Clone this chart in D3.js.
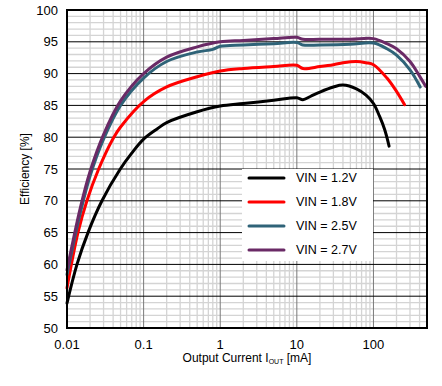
<!DOCTYPE html>
<html>
<head>
<meta charset="utf-8">
<script src="https://cdn.jsdelivr.net/npm/d3@7"></script>
<style>
  body { margin: 0; background: #fff; }
  text { font-family: "Liberation Sans", Arial, sans-serif; fill: #000; }
</style>
</head>
<body>
<div id="chart"></div>
<script>
// tick labels
var xTicks = [0.01, 0.1, 1, 10, 100];
var yTicks = [50, 55, 60, 65, 70, 75, 80, 85, 90, 95, 100];

// series
var seriesNames = ['VIN = 1.2V', 'VIN = 1.8V', 'VIN = 2.5V', 'VIN = 2.7V'];
var seriesColors = ['#000000', '#ff0000', '#2f6378', '#6a2a66'];

// output current [mA] and efficiency [%] per series
var iout12 = [0.01, 0.0135, 0.0188, 0.0286, 0.0496, 0.07, 0.1, 0.15, 0.2, 0.5, 1, 2, 5, 10, 12, 15, 20, 30, 40, 60, 80, 100, 120, 140, 160];
var eff12 = [53.9, 60.0, 65.0, 70.0, 75.0, 77.5, 79.7, 81.3, 82.3, 84.0, 84.9, 85.3, 85.8, 86.2, 85.9, 86.4, 87.1, 87.9, 88.2, 87.6, 86.6, 85.3, 83.3, 81.2, 78.6];

var iout18 = [0.01, 0.0139, 0.0182, 0.0259, 0.04, 0.05, 0.1, 0.2, 0.5, 1, 2, 5, 10, 12, 20, 30, 40, 60, 80, 100, 150, 200, 255];
var eff18 = [56.3, 65.0, 70.0, 75.0, 79.8, 81.6, 85.6, 87.9, 89.5, 90.4, 90.8, 91.1, 91.3, 90.8, 91.1, 91.4, 91.7, 91.9, 91.7, 91.4, 89.3, 87.2, 85.1];

var iout25 = [0.01, 0.015, 0.02, 0.03, 0.05, 0.1, 0.2, 0.5, 0.8, 1, 2, 5, 10, 12, 20, 50, 100, 150, 200, 300, 408];
var eff25 = [58.4, 68.2, 73.9, 79.7, 85.0, 89.3, 91.9, 93.4, 93.8, 94.3, 94.5, 94.7, 94.9, 94.5, 94.5, 94.6, 94.8, 93.9, 92.9, 90.6, 87.9];

var iout27 = [0.01, 0.015, 0.02, 0.03, 0.05, 0.1, 0.2, 0.5, 1, 2, 5, 10, 12, 20, 50, 100, 150, 200, 300, 400, 480];
var eff27 = [59.1, 69.0, 74.6, 80.4, 85.7, 90.0, 92.6, 94.2, 95.0, 95.2, 95.5, 95.7, 95.4, 95.4, 95.4, 95.5, 94.7, 93.9, 91.9, 89.6, 88.0];

var seriesX = [iout12, iout18, iout25, iout27];
var seriesY = [eff12, eff18, eff25, eff27];

var width = 442, height = 386;
var margin = { left: 67, right: 15, top: 10, bottom: 58 };

var svg = d3.select('#chart')
  .append('svg')
  .attr('width', width)
  .attr('height', height);

var x = d3.scaleLog()
  .domain([0.01, 500])
  .range([margin.left, width - margin.right]);

var y = d3.scaleLinear()
  .domain([50, 100])
  .range([height - margin.bottom, margin.top]);

var plot = svg.append('g');

// minor vertical grid
var minorX = [];
for (var d = 0.01; d < 500; d *= 10) {
  for (var k = 2; k <= 9; k++) {
    if (d * k < 500) minorX.push(d * k);
  }
}
plot.selectAll('.vminor')
  .data(minorX)
  .enter().append('line')
  .attr('x1', function (v) { return x(v); })
  .attr('x2', function (v) { return x(v); })
  .attr('y1', y(50))
  .attr('y2', y(100))
  .attr('stroke', '#d4d4d4')
  .attr('stroke-width', 1.3);

// minor horizontal grid
plot.selectAll('.hminor')
  .data(d3.range(51, 100).filter(function (v) { return v % 5 !== 0; }))
  .enter().append('line')
  .attr('x1', x(0.01))
  .attr('x2', x(500))
  .attr('y1', function (v) { return y(v); })
  .attr('y2', function (v) { return y(v); })
  .attr('stroke', '#d4d4d4')
  .attr('stroke-width', 1.3);

// decade lines
plot.selectAll('.vmajor')
  .data(xTicks.slice(1))
  .enter().append('line')
  .attr('x1', function (v) { return x(v); })
  .attr('x2', function (v) { return x(v); })
  .attr('y1', y(50))
  .attr('y2', y(100))
  .attr('stroke', '#7a7a7a')
  .attr('stroke-width', 1);

// major horizontal lines
plot.selectAll('.hmajor')
  .data(yTicks.slice(1, -1))
  .enter().append('line')
  .attr('x1', x(0.01))
  .attr('x2', x(500))
  .attr('y1', function (v) { return y(v); })
  .attr('y2', function (v) { return y(v); })
  .attr('stroke', '#000')
  .attr('stroke-width', 1);

// curves
var line = d3.line()
  .x(function (p) { return x(p[0]); })
  .y(function (p) { return y(p[1]); })
  .curve(d3.curveCatmullRom.alpha(0.5));

seriesNames.forEach(function (name, i) {
  var pts = seriesX[i].map(function (v, j) { return [v, seriesY[i][j]]; });
  plot.append('path')
    .attr('d', line(pts))
    .attr('fill', 'none')
    .attr('stroke', seriesColors[i])
    .attr('stroke-width', 3)
    .attr('stroke-linejoin', 'round')
    .attr('stroke-linecap', 'round');
});

// frame
svg.append('rect')
  .attr('x', x(0.01))
  .attr('y', y(100))
  .attr('width', x(500) - x(0.01))
  .attr('height', y(50) - y(100))
  .attr('fill', 'none')
  .attr('stroke', '#000')
  .attr('stroke-width', 2);

// axes labels
svg.selectAll('.ylab')
  .data(yTicks)
  .enter().append('text')
  .attr('x', margin.left - 9)
  .attr('y', function (v) { return y(v); })
  .attr('dy', '0.35em')
  .attr('text-anchor', 'end')
  .style('font-size', '13px')
  .text(function (v) { return v; });

svg.selectAll('.xlab')
  .data(xTicks)
  .enter().append('text')
  .attr('x', function (v) { return x(v); })
  .attr('y', y(50) + 21)
  .attr('text-anchor', 'middle')
  .style('font-size', '13px')
  .text(function (v) { return v; });

var xTitle = svg.append('text')
  .attr('x', 247)
  .attr('y', 362)
  .attr('text-anchor', 'middle')
  .style('font-size', '12px');
xTitle.append('tspan').text('Output Current I');
xTitle.append('tspan').attr('dy', 2).style('font-size', '7px').text('OUT');
xTitle.append('tspan').attr('dy', -2).text(' [mA]');

svg.append('text')
  .attr('transform', 'translate(29,' + y(75) + ') rotate(-90)')
  .attr('text-anchor', 'middle')
  .style('font-size', '12px')
  .text('Efficiency [%]');

// legend
var legend = svg.append('g').attr('transform', 'translate(242,169)');
legend.append('rect')
  .attr('width', 131)
  .attr('height', 92)
  .attr('fill', '#fff');

seriesNames.forEach(function (name, i) {
  var ly = 9 + i * 24;
  legend.append('line')
    .attr('x1', 7).attr('x2', 42)
    .attr('y1', ly).attr('y2', ly)
    .attr('stroke', seriesColors[i])
    .attr('stroke-width', 3)
    .attr('stroke-linecap', 'round');
  legend.append('text')
    .attr('x', 54)
    .attr('y', ly)
    .attr('dy', '0.35em')
    .style('font-size', '12.5px')
    .text(name);
});
</script>
</body>
</html>
